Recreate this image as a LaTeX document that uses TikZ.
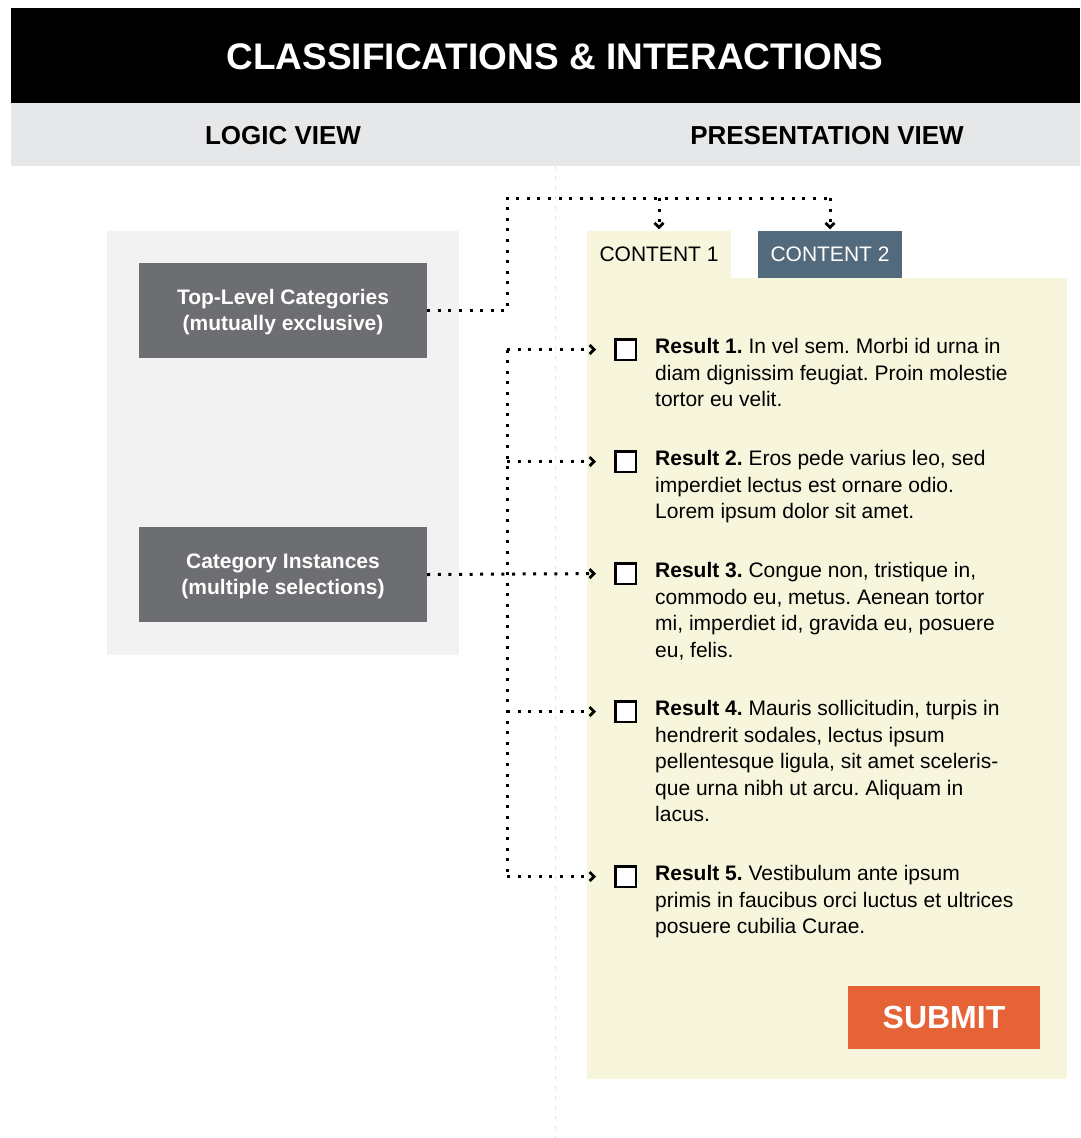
\documentclass[tikz,border=0pt]{standalone}
\usepackage{fontspec}
\setmainfont{Liberation Sans}
\usetikzlibrary{arrows.meta}
\frenchspacing
\definecolor{bandgray}{HTML}{E6E7E8}
\definecolor{panelgray}{HTML}{F2F2F2}
\definecolor{boxgray}{HTML}{6D6E71}
\definecolor{paper}{HTML}{F7F5DC}
\definecolor{slate}{HTML}{536A7D}
\definecolor{orange}{HTML}{E66237}
\definecolor{divgray}{HTML}{DDDDDD}
\tikzset{
  catbox/.style={fill=boxgray, draw=none, minimum width=288, minimum height=95, inner sep=0},
  cattext/.style={inner sep=0, text=white, align=center, font=\fontsize{21}{26}\selectfont\bfseries},
  tabbox/.style={draw=none, minimum width=144, minimum height=47, inner sep=0,
    font=\fontsize{21}{26}\selectfont},
  chk/.style={draw=black, fill=white, line width=2.5, minimum size=20.5, inner sep=0},
  result/.style={anchor=north west, inner sep=0, align=left,
    font=\fontsize{21}{26.5}\selectfont},
  conn/.style={line width=3, dash pattern=on 3 off 7.6, black},
  tip/.style={-{Straight Barb[length=4.5,width=9,line width=2.8]}},
  viewlabel/.style={anchor=base, inner sep=0, font=\fontsize{26}{30}\selectfont\bfseries},
}
\begin{document}
\begin{tikzpicture}[x=1pt,y=-1pt]
\useasboundingbox (0,0) rectangle (1080,1138);
% header
\fill[black] (11,8) rectangle (1080,103);
\node[anchor=base, inner sep=0, text=white, font=\fontsize{37}{40}\selectfont\bfseries] (title) at (555,69) {CLASSIFICATIONS \& INTERACTIONS};
\fill[bandgray] (11,103) rectangle (1080,166);
\node[viewlabel] (logic) at (283,144) {LOGIC VIEW};
\node[viewlabel] (pres) at (827,144) {PRESENTATION VIEW};
% divider
\draw[divgray, line width=1, dash pattern=on 3 off 7] (555,166) -- (555,1138);
% left panel
\fill[panelgray] (107,231) rectangle (459,655);
\node[catbox] (top) at (283,310.5) {};
\node[cattext] (toptext) at (283,312.5) {Top-Level Categories\\(mutually exclusive)};
\node[catbox] (inst) at (283,574.5) {};
\node[cattext] (insttext) at (283,576.5) {Category Instances\\(multiple selections)};
% presentation panel
\fill[paper] (587,278) rectangle (1067,1079);
\node[tabbox, fill=paper, text=black] (tab1) at (659,254.5) {CONTENT 1};
\node[tabbox, fill=slate, text=white] (tab2) at (830,254.5) {CONTENT 2};
% checkboxes
\node[chk] (cb1) at (625.5,349.5) {};
\node[chk] (cb2) at (625.5,461.5) {};
\node[chk] (cb3) at (625.5,573.5) {};
\node[chk] (cb4) at (625.5,711.5) {};
\node[chk] (cb5) at (625.5,876.5) {};
% results
\node[result] (r1) at (655,338.5) {\textbf{Result 1.} In vel sem. Morbi id urna in\\diam dignissim feugiat. Proin molestie\\tortor eu velit.};
\node[result] (r2) at (655,450.5) {\textbf{Result 2.} Eros pede varius leo, sed\\imperdiet lectus est ornare odio.\\Lorem ipsum dolor sit amet.};
\node[result] (r3) at (655,562.5) {\textbf{Result 3.} Congue non, tristique in,\\commodo eu, metus. Aenean tortor\\mi, imperdiet id, gravida eu, posuere\\eu, felis.};
\node[result] (r4) at (655,700.5) {\textbf{Result 4.} Mauris sollicitudin, turpis in\\hendrerit sodales, lectus ipsum\\pellentesque ligula, sit amet sceleris-\\que urna nibh ut arcu. Aliquam in\\lacus.};
\node[result] (r5) at (655,865.5) {\textbf{Result 5.} Vestibulum ante ipsum\\primis in faucibus orci luctus et ultrices\\posuere cubilia Curae.};
% submit
\node[fill=orange, text=white, minimum width=192, minimum height=63, inner sep=0,
  font=\fontsize{32}{36}\selectfont\bfseries] (submit) at (944,1017.5) {SUBMIT};
% connectors
\coordinate (tl) at (507,198);
\coordinate (tr) at (830,198);
\draw[conn] (top.east) -| (tl) -- (tr);
\draw[conn, tip, shorten >=1.5] (tr) -- (tab2.north);
\draw[conn, tip, shorten >=1.5] (tab1.north |- tl) -- (tab1.north);
\coordinate (j1) at (507,349.5);
\coordinate (j2) at (507,461.5);
\coordinate (j4) at (507,711.5);
\coordinate (j5) at (507,876.5);
\draw[conn] (j1) -- (j5);
\draw[conn, tip, shorten >=18] (j1) -- (cb1.west);
\draw[conn, tip, shorten >=18] (j2) -- (cb2.west);
\draw[conn, tip, shorten >=18] (inst.east) -- (cb3.west);
\draw[conn, tip, shorten >=18] (j4) -- (cb4.west);
\draw[conn, tip, shorten >=18] (j5) -- (cb5.west);
\end{tikzpicture}
\end{document}
